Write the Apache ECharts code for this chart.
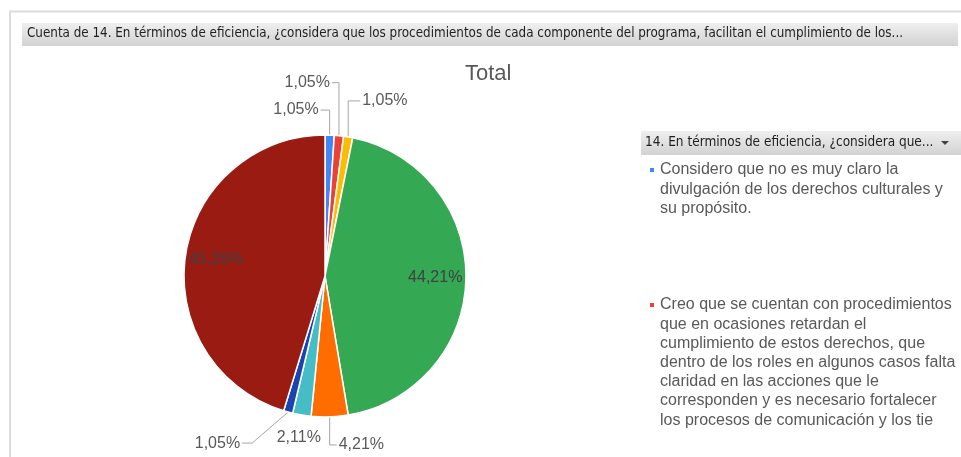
<!DOCTYPE html>
<html>
<head>
<meta charset="utf-8">
<script src="https://cdn.jsdelivr.net/npm/echarts@6/dist/echarts.min.js"></script>
<style>
  html, body { margin: 0; padding: 0; background: #fff; }
  #main { width: 961px; height: 457px; }
</style>
</head>
<body>
<div id="main"></div>
<script>
// answers to question 14 (only the first two names are visible in the legend)
var categories = [
    'Considero que no es muy claro la\ndivulgación de los derechos culturales y\nsu propósito.',
    'Creo que se cuentan con procedimientos\nque en ocasiones retardan el\ncumplimiento de estos derechos, que\ndentro de los roles en algunos casos falta\nclaridad en las acciones que le\ncorresponden y es necesario fortalecer\nlos procesos de comunicación y los tie',
    'Respuesta 3',
    'Respuesta 4',
    'Respuesta 5',
    'Respuesta 6',
    'Respuesta 7',
    'Respuesta 8'
];
var counts = [1, 1, 1, 42, 4, 2, 1, 43];
var colors = ['#4285F4', '#EA4335', '#FBBC04', '#34A853', '#FF6D01', '#46BDC6', '#1A45B0', '#9A1B12'];
var headerText = 'Cuenta de 14. En términos de eficiencia, ¿considera que los procedimientos de cada componente del programa, facilitan el cumplimiento de los...';
var legendHeader = '14. En términos de eficiencia, ¿considera que...';

var total = counts.reduce(function (a, b) { return a + b; }, 0);
var pieCenter = [325, 276];

// where each small label sits relative to its slice edge
var labelTweaks = {
    0: { dx: 0, dy: -25, run: 9, side: 'left' },
    1: { dx: 0, dy: -53, run: 7, side: 'left' },
    2: { dx: 0, dy: -36, run: 12, side: 'right' },
    4: { dx: 0, dy: 28, run: 7, side: 'right' },
    5: { dx: -3, dy: 23, run: 0, side: 'none' },
    6: { dx: -36, dy: 31, run: 10, side: 'left' }
};

function pct(v) {
    return (v / total * 100).toFixed(2).replace('.', ',') + '%';
}

var pieData = categories.map(function (name, i) {
    var big = counts[i] > 20;
    return {
        name: name,
        value: counts[i],
        itemStyle: { color: colors[i] },
        label: big ? { position: 'inside', color: '#404040' } : { position: 'outside' },
        labelLine: { show: !big && i !== 5 }
    };
});

function legendFor(i, top) {
    var lines = categories[i].split('\n').length;
    return {
        data: [categories[i]],
        orient: 'vertical',
        left: 643,
        top: top - (2 * lines - 1) * 19.2 / 2 - 5,
        icon: 'rect',
        itemWidth: 6,
        itemHeight: 6,
        itemGap: 0,
        selectedMode: false,
        formatter: function (name) {
            var n = name.split('\n').length;
            return new Array(n).join('\n') + name;
        },
        textStyle: {
            fontFamily: 'Liberation Sans',
            fontSize: 16,
            lineHeight: 19.2,
            color: '#595959'
        }
    };
}

var myChart = echarts.init(document.getElementById('main'));

var option = {
    animation: false,
    title: {
        text: 'Total',
        left: 460,
        top: 58,
        textStyle: { fontFamily: 'Liberation Sans', fontSize: 22, fontWeight: 'normal', color: '#595959' }
    },
    legend: [legendFor(0, 170), legendFor(1, 305)],
    graphic: [
        { type: 'line', shape: { x1: 9, y1: 11.5, x2: 961, y2: 11.5 }, style: { stroke: '#dcdcdc', lineWidth: 2 } },
        { type: 'line', shape: { x1: 10, y1: 11, x2: 10, y2: 457 }, style: { stroke: '#dcdcdc', lineWidth: 2 } },
        {
            type: 'rect', shape: { x: 22, y: 23, width: 936, height: 23 },
            style: {
                fill: new echarts.graphic.LinearGradient(0, 0, 0, 1, [
                    { offset: 0, color: '#efefef' }, { offset: 1, color: '#d2d2d2' }
                ])
            }
        },
        {
            type: 'text', left: 27, top: 27,
            style: { text: headerText, font: '13.3px "DejaVu Sans Condensed"', fill: '#1f1f1f' }
        },
        {
            type: 'rect', shape: { x: 641, y: 131, width: 320, height: 24 },
            style: {
                fill: new echarts.graphic.LinearGradient(0, 0, 0, 1, [
                    { offset: 0, color: '#efefef' }, { offset: 1, color: '#d2d2d2' }
                ])
            }
        },
        {
            type: 'text', left: 645, top: 135,
            style: { text: legendHeader, font: '13.5px "DejaVu Sans Condensed"', fill: '#1f1f1f' }
        },
        {
            type: 'polygon', shape: { points: [[941, 141], [949, 141], [945, 145]] },
            style: { fill: '#444' }
        }
    ],
    series: [
        {
            type: 'pie',
            center: pieCenter,
            radius: 141,
            startAngle: 90,
            clockwise: true,
            avoidLabelOverlap: false,
            legendHoverLink: false,
            data: pieData,
            itemStyle: { borderColor: '#fff', borderWidth: 1.5 },
            label: {
                formatter: function (p) { return pct(p.value); },
                fontFamily: 'Liberation Sans',
                fontSize: 16,
                color: '#595959'
            },
            labelLine: { lineStyle: { color: '#a6a6a6', width: 1 } },
            labelLayout: function (p) {
                var r = p.labelRect;
                if (counts[p.dataIndex] > 20) {
                    var lx = r.x + r.width / 2, ly = r.y + r.height / 2;
                    return {
                        x: pieCenter[0] + (lx - pieCenter[0]) * 1.5,
                        y: pieCenter[1] + (ly - pieCenter[1]) * 1.5,
                        align: 'center',
                        verticalAlign: 'middle'
                    };
                }
                var t = labelTweaks[p.dataIndex];
                if (!t || !p.labelLinePoints) return {};
                var a = p.labelLinePoints[0];
                var b = [a[0] + t.dx, a[1] + t.dy];
                if (t.side === 'none') {
                    return { x: b[0], y: b[1], align: 'center', verticalAlign: 'middle' };
                }
                var left = t.side === 'left';
                var c = [b[0] + (left ? -t.run : t.run), b[1]];
                return {
                    x: c[0] + (left ? -2 : 2),
                    y: c[1],
                    align: left ? 'right' : 'left',
                    verticalAlign: 'middle',
                    labelLinePoints: [a, b, c]
                };
            }
        }
    ]
};

myChart.setOption(option);
</script>
</body>
</html>
